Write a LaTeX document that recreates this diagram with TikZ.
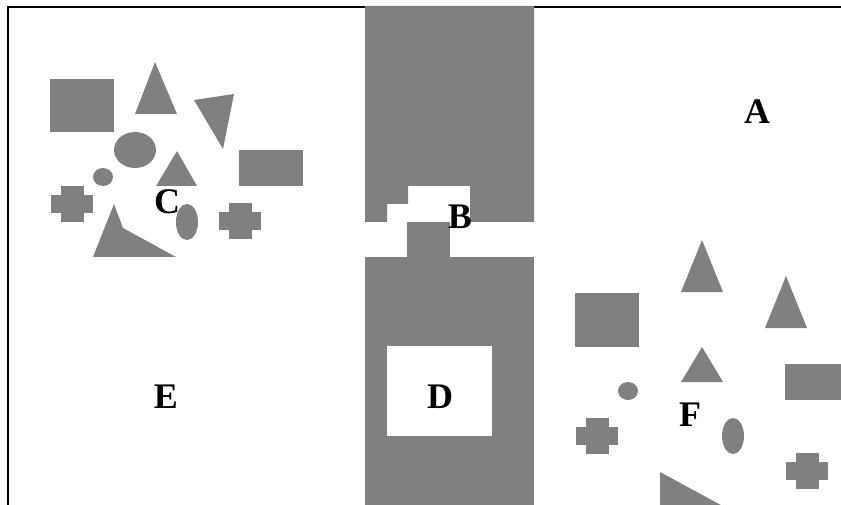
\documentclass[tikz,border=0pt]{standalone}
\usepackage{fontspec}
\setmainfont{Liberation Serif}
\usetikzlibrary{positioning}

\begin{document}
\begin{tikzpicture}[
  x=1pt, y=-1pt,
  blob/.style={fill=gray, draw=none},
  hole/.style={fill=white, draw=none},
  lbl/.style={font=\fontsize{36}{36}\selectfont\bfseries, inner sep=0pt},
  pics/crossblob/.style={code={
    \fill[gray] (-21,-9) rectangle (21,9);
    \fill[gray] (-11.5,-18) rectangle (11.5,18);
  }}
]
\useasboundingbox (0,0) rectangle (841,505);
\clip (0,0) rectangle (841,505);
% frame
\draw[line width=2pt] (841,7) -- (8,7) -- (8,505);

% left cluster (C)
\fill[blob] (50,79) rectangle (114,132);
\fill[blob] (155,62) -- (177,114) -- (135,114) -- cycle;
\fill[blob] (194,100) -- (234,94) -- (223,149) -- cycle;
\fill[blob] (135,150) ellipse [x radius=21, y radius=18];
\fill[blob] (177,151) -- (197,186) -- (156,186) -- cycle;
\fill[blob] (239,150) rectangle (303,186);
\fill[blob] (103,177) ellipse [x radius=10, y radius=9];
\pic at (72,204) {crossblob};
\fill[blob] (187,222) ellipse [x radius=11, y radius=18];
\pic at (240,221) {crossblob};
\fill[blob] (114,204) -- (123,228) -- (176,257) -- (93,257) -- cycle;

% middle column (B, D)
\fill[blob] (365,6) -- (534,6) -- (534,222) -- (470,222) -- (470,186)
  -- (408,186) -- (408,204) -- (387,204) -- (387,222) -- (365,222) -- cycle;
\fill[blob] (407,222) rectangle (450,257);
\fill[blob] (365,257) rectangle (534,505);
\fill[hole] (387,346) rectangle (492,436);

% right cluster (F)
\fill[blob] (702,240) -- (723,292) -- (681,292) -- cycle;
\fill[blob] (786,276) -- (807,328) -- (765,328) -- cycle;
\fill[blob] (575,293) rectangle (639,347);
\fill[blob] (702,347) -- (723,382) -- (681,382) -- cycle;
\fill[blob] (785,364) rectangle (845,400);
\fill[blob] (628,391) ellipse [x radius=10, y radius=9];
\fill[blob] (733,436) ellipse [x radius=11, y radius=18];
\pic at (597,435.5) {crossblob};
\pic at (807,471) {crossblob};
\fill[blob] (660,472) -- (730,510) -- (660,510) -- cycle;

% labels
\node[lbl] (labA) at (757,112) {A};
\node[lbl] (labB) at (460,217) {B};
\node[lbl] (labC) at (167,202) {C};
\node[lbl] (labD) at (440,397) {D};
\node[lbl] (labE) at (166,397) {E};
\node[lbl] (labF) at (690,415) {F};
\end{tikzpicture}
\end{document}
